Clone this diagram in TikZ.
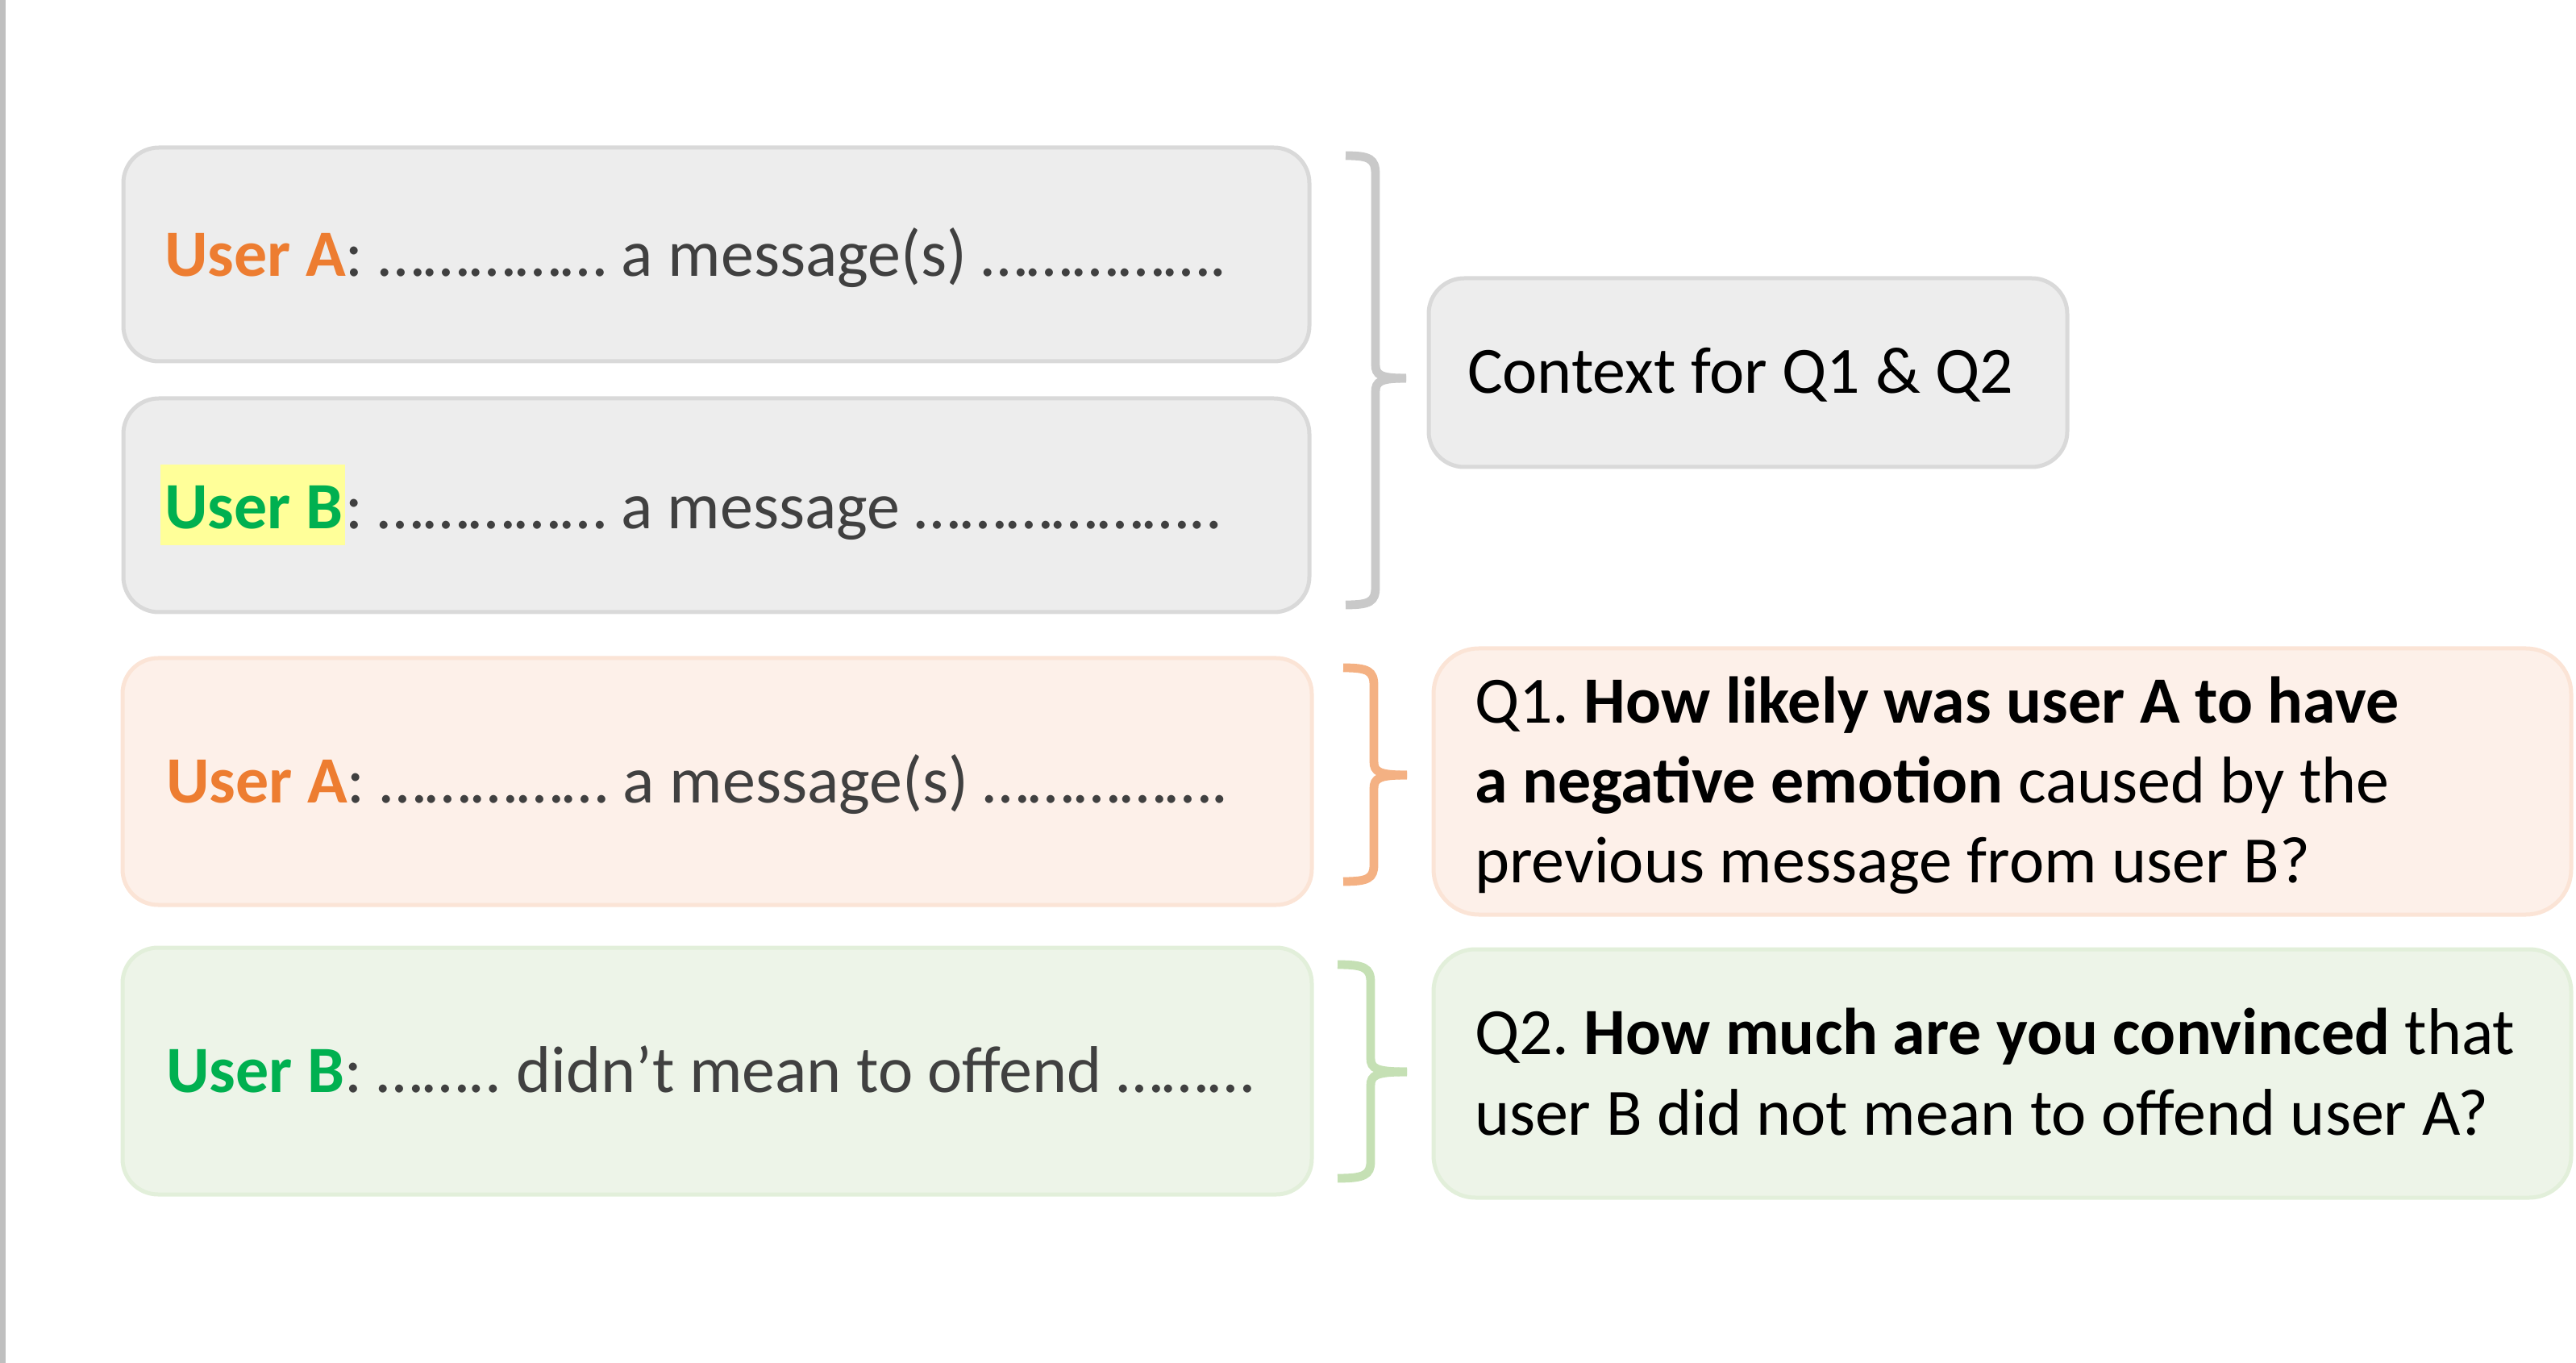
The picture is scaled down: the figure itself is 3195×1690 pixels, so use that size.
\documentclass[tikz,border=0pt]{standalone}
\usepackage{fontspec}
\setmainfont{Carlito}
\frenchspacing
\definecolor{msg}{HTML}{404040}
\definecolor{usera}{HTML}{ED7D31}
\definecolor{userb}{HTML}{00B050}
\definecolor{hlyellow}{HTML}{FFFF99}
\definecolor{grayfill}{HTML}{EDEDED}
\definecolor{grayline}{HTML}{D9D9D9}
\definecolor{orfill}{HTML}{FDF0E9}
\definecolor{orline}{HTML}{FBE4D6}
\definecolor{grfill}{HTML}{EDF4E8}
\definecolor{grline}{HTML}{E2EFDA}
\definecolor{bracegray}{HTML}{C9C9C9}
\definecolor{braceor}{HTML}{F4B183}
\definecolor{bracegr}{HTML}{C5E0B4}
\definecolor{leftbar}{HTML}{BFBFBF}
\newcommand{\hlt}[1]{{\setlength{\fboxsep}{0pt}\kern-1.25pt\colorbox{hlyellow}{\rule[-5.125pt]{0pt}{25.125pt}\kern1.25pt #1\kern0.75pt}}}
\newcommand{\ua}{\textcolor{usera}{\textbf{User A}}}
\newcommand{\ub}{\textcolor{userb}{\textbf{User B}}}
\begin{document}
\begin{tikzpicture}[x=0.25pt,y=-0.25pt,
  every node/.style={inner sep=0pt, outer sep=0pt},
  msgbox/.style={draw, line width=1.25pt, anchor=north west},
  graybox/.style={msgbox, fill=grayfill, draw=grayline},
  orbox/.style={msgbox, fill=orfill, draw=orline},
  grbox/.style={msgbox, fill=grfill, draw=grline},
  txt/.style={font=\fontsize{20.5}{24.75}\selectfont\frenchspacing, anchor=base west},
  qtxt/.style={font=\fontsize{20.5}{24.75}\selectfont\frenchspacing, anchor=north west, align=flush left, text width=340pt},
  brace/.style={line width=2.7pt, line cap=butt}
]
\useasboundingbox (0,0) rectangle (3195,1690);
\fill[leftbar] (0,0) rectangle (7,1690);

% left message boxes
\node[graybox, rounded corners=11pt, minimum width=367.75pt, minimum height=66.25pt] (b1) at (153,183) {};
\node[graybox, rounded corners=11pt, minimum width=367.75pt, minimum height=66.25pt] (b2) at (153,494) {};
\node[orbox, rounded corners=11pt, minimum width=368.75pt, minimum height=76.5pt] (b3) at (152,816) {};
\node[grbox, rounded corners=11pt, minimum width=368.75pt, minimum height=76.5pt] (b4) at (152,1175) {};

% right boxes
\node[graybox, rounded corners=11pt, minimum width=198pt, minimum height=58.5pt] (ctx) at (1772,345) {};
\node[orbox, rounded corners=14pt, minimum width=352.75pt, minimum height=82.5pt] (q1) at (1778,804) {};
\node[grbox, rounded corners=13pt, minimum width=352.75pt, minimum height=77pt] (q2) at (1778,1177) {};

% texts
\node[txt, text=msg] (t1) at (204,343) {\ua: …………… a message(s) …………….};
\node[txt, text=msg] (t2) at (204,656) {\hlt{\ub}: …………… a message ………………..};
\node[txt, text=msg] (t3) at (206,996) {\ua: …………… a message(s) …………….};
\node[txt, text=msg] (t4) at (206,1354) {\ub: ……..\ didn’t mean to offend ………};
\node[txt] (tctx) at (1820,488) {Context for Q1 \& Q2};
\node[qtxt] (tq1) at (1829,827.7) {\strut Q1. \textbf{How likely was user A to have}\\\textbf{a negative emotion} caused by the\\previous message from user B?};
\node[qtxt] (tq2) at (1829,1238.7) {\strut Q2. \textbf{How much are you convinced} that\\user B did not mean to offend user A?};

% braces
\draw[brace, draw=bracegray]
  (1669,193) .. controls (1699,193) and (1706,197) .. (1706,216) -- (1706,452)
  .. controls (1706,465) and (1712,469) .. (1744,469);
\draw[brace, draw=bracegray]
  (1744,469) .. controls (1712,469) and (1706,473) .. (1706,486) -- (1706,728)
  .. controls (1706,746) and (1699,750) .. (1669,750);

\draw[brace, draw=braceor]
  (1666,828) .. controls (1697,828) and (1704,832) .. (1704,850) -- (1704,944)
  .. controls (1704,957) and (1710,961) .. (1745,961);
\draw[brace, draw=braceor]
  (1745,961) .. controls (1710,961) and (1704,965) .. (1704,978) -- (1704,1072)
  .. controls (1704,1089) and (1697,1093) .. (1666,1093);

\draw[brace, draw=bracegr]
  (1659,1196) .. controls (1692,1196) and (1700,1200) .. (1700,1218) -- (1700,1312)
  .. controls (1700,1325) and (1707,1329) .. (1745,1329);
\draw[brace, draw=bracegr]
  (1745,1329) .. controls (1707,1329) and (1700,1333) .. (1700,1346) -- (1700,1440)
  .. controls (1700,1457) and (1692,1461) .. (1659,1461);
\end{tikzpicture}
\end{document}
